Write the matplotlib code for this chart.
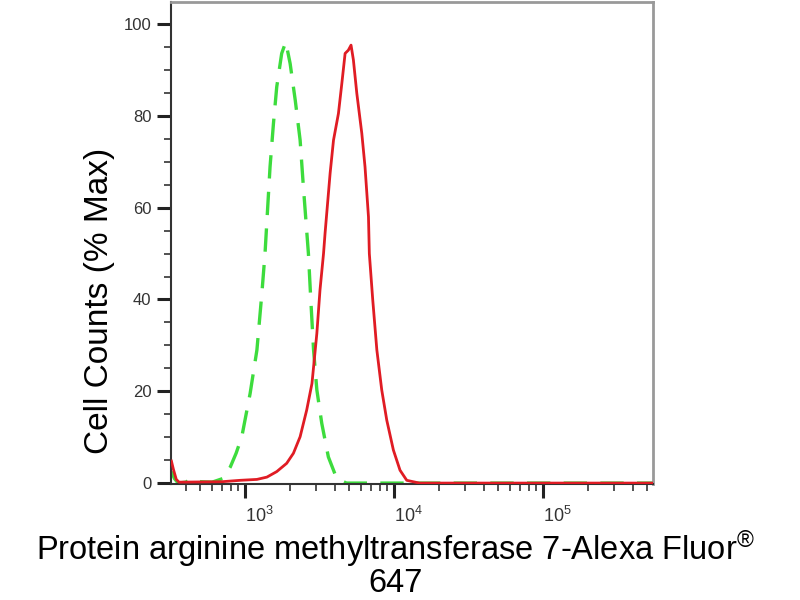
import numpy as np
import matplotlib
matplotlib.use("Agg")
import matplotlib.pyplot as plt
import matplotlib.transforms as mtransforms
from matplotlib.ticker import MultipleLocator, LogLocator, NullFormatter

plt.rcParams['font.family'] = ['Liberation Sans', 'DejaVu Sans']
plt.rcParams['mathtext.fontset'] = 'custom'
plt.rcParams['mathtext.rm'] = 'Liberation Sans'
plt.rcParams['mathtext.it'] = 'Liberation Sans'

# Control (isotype) histogram - green dashed
ctrl_x = [320, 335, 355, 400, 436, 500, 600, 710, 795, 870, 950, 1080, 1200,
          1295, 1360, 1470, 1550, 1630, 1760, 1875, 2005, 2170, 2340, 2460,
          2660, 2760, 2880, 3030, 3270, 3620, 4120, 4790, 550000]
ctrl_y = [2.5, 1.0, 0.0, 0.2, 1.0, 0.3, 0.2, 1.0, 3.5, 6.5, 10.1, 19.5, 29.0,
          41.3, 50.0, 68.9, 78.4, 86.3, 93.6, 96.1, 91.4, 83.4, 74.7, 64.6,
          50.0, 39.9, 29.0, 20.3, 13.0, 5.7, 1.0, 0.0, 0.0]

# Stained sample histogram - red solid
samp_x = [320, 330, 345, 360, 700, 925, 1200, 1400, 1630, 1900, 2110, 2340,
          2590, 2810, 3030, 3180, 3360, 3440, 3720, 3920, 4230, 4460, 4690,
          4930, 5140, 5330, 5620, 6070, 6380, 6730, 6820, 7190, 7660, 8260,
          8930, 9890, 10960, 12160, 14800, 550000]
samp_y = [4.8, 3.0, 0.8, 0.2, 0.3, 0.6, 0.8, 1.3, 2.5, 4.3, 6.5, 10.1,
          15.9, 21.7, 32.6, 42.0, 50.0, 54.4, 67.5, 74.7, 80.5, 87.1, 93.6,
          94.3, 95.4, 92.2, 84.9, 76.2, 68.9, 58.0, 50.0, 39.9, 29.0, 20.3,
          13.7, 7.2, 2.8, 0.6, 0.0, 0.0]

y_ticks = [0, 20, 40, 60, 80, 100]

fig = plt.figure(figsize=(8, 6), dpi=100)
ax = fig.add_axes([171/800, 1 - 484/600, (653 - 171)/800, (484 - 2)/600])

ax.plot(ctrl_x, ctrl_y, color='#3ddc3d', lw=2.4, dashes=(7, 4), zorder=2)
ax.plot(samp_x, samp_y, color='#e01c24', lw=2.0, zorder=3)

ax.set_xscale('log')
ax.set_xlim(318, 5.47e5)
ax.set_ylim(-0.2, 104.8)

ax.set_yticks(y_ticks)
ax.yaxis.set_minor_locator(MultipleLocator(5))
ax.xaxis.set_major_locator(LogLocator(base=10))
ax.xaxis.set_minor_locator(LogLocator(base=10, subs=np.arange(2, 10)))
ax.xaxis.set_minor_formatter(NullFormatter())

ax.tick_params(axis='both', which='major', length=10, width=2.2,
               color='#222222', labelcolor='#333333')
ax.tick_params(axis='both', which='minor', length=5, width=1.2, color='#333333')
ax.tick_params(axis='y', which='major', labelsize=12, pad=4)
ax.tick_params(axis='x', which='major', labelsize=13, pad=6)

# x tick labels sit slightly right of their ticks in the original
shift = mtransforms.ScaledTranslation(14/100, 0, fig.dpi_scale_trans)
for lab in ax.get_xticklabels():
    lab.set_transform(lab.get_transform() + shift)

for side in ['left', 'bottom']:
    ax.spines[side].set_color('#333333')
    ax.spines[side].set_linewidth(1.5)
for side in ['top', 'right']:
    ax.spines[side].set_color('#999999')
    ax.spines[side].set_linewidth(2)

ax.set_ylabel('Cell Counts (% Max)', fontsize=24)
ax.yaxis.set_label_coords(-0.116, 0.38)
ax.set_xlabel('Protein arginine methyltransferase 7-Alexa Fluor$^{®}$\n647',
              fontsize=23.5, linespacing=0.97)
ax.xaxis.set_label_coords(0.465, -0.092)

fig.savefig('out.png', dpi=100)
